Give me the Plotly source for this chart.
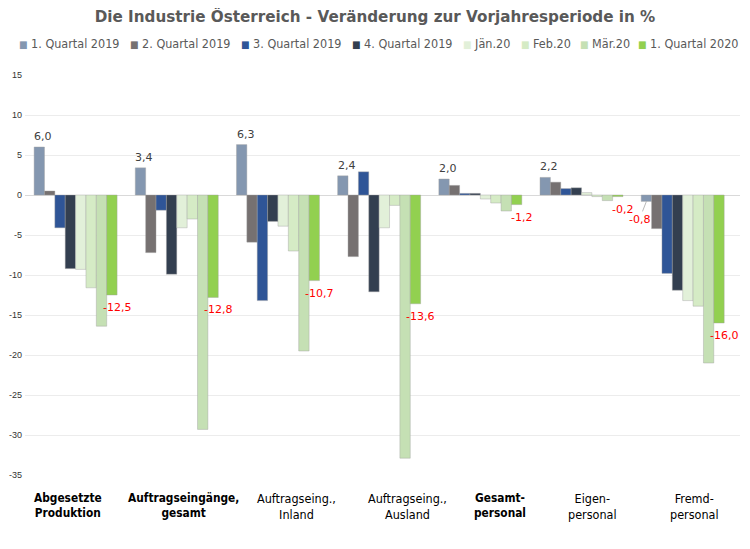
import plotly.graph_objects as go

# ---------------- data ----------------
categories = ["Abgesetzte Produktion", "Auftragseingänge, gesamt", "Auftragseing., Inland",
              "Auftragseing., Ausland", "Gesamtpersonal", "Eigenpersonal", "Fremdpersonal"]
category_labels = ["Abgesetzte<br>Produktion", "Auftragseingänge,<br>gesamt", "Auftragseing.,<br>Inland",
                   "Auftragseing.,<br>Ausland", "Gesamt-<br>personal", "Eigen-<br>personal", "Fremd-<br>personal"]
category_bold = [True, True, False, False, True, False, False]

series_names = ["1. Quartal 2019", "2. Quartal 2019", "3. Quartal 2019", "4. Quartal 2019",
                "Jän.20", "Feb.20", "Mär.20", "1. Quartal 2020"]

q1_2019 = [6.0, 3.4, 6.3, 2.4, 2.0, 2.2, -0.8]
q2_2019 = [0.5, -7.2, -5.9, -7.7, 1.2, 1.6, -4.2]
q3_2019 = [-4.1, -1.9, -13.2, 2.9, 0.2, 0.8, -9.8]
q4_2019 = [-9.2, -9.9, -3.3, -12.1, 0.2, 0.9, -11.9]
jan_20 = [-9.3, -4.1, -3.9, -4.1, -0.5, 0.3, -13.2]
feb_20 = [-11.6, -3.0, -7.0, -1.3, -1.0, -0.2, -13.9]
mar_20 = [-16.4, -29.3, -19.5, -32.9, -2.0, -0.7, -21.0]
q1_2020 = [-12.5, -12.8, -10.7, -13.6, -1.2, -0.2, -16.0]

y_ticks = [15, 10, 5, 0, -5, -10, -15, -20, -25, -30, -35]

# ---------------- style ----------------
colors = ["#8497b0", "#767171", "#2f5597", "#333f50", "#e2f0d9", "#d5ebc5", "#c5e0b4", "#92d050"]
# page offset: the html body has an 8px margin
OFF = 8
legend_x_px = [17, 128, 239, 350, 461, 519, 578, 636]
label_xshift = [-8, 7, 19, 28, 20, 11, 12]
BARGAP = 0.18
PLOT_L, PLOT_R, PLOT_T, PLOT_B = 25 - OFF, 740 - OFF, 75 - OFF, 475 - OFF
W, H = 750 - OFF, 549 - OFF
FONT_TXT = "DejaVu Sans Condensed, Liberation Sans Narrow, DejaVu Sans, sans-serif"


def fmt(v):
    return f"{v:.1f}".replace(".", ",")


all_series = [q1_2019, q2_2019, q3_2019, q4_2019, jan_20, feb_20, mar_20, q1_2020]

fig = go.Figure()
for i, (name, vals) in enumerate(zip(series_names, all_series)):
    fig.add_trace(go.Bar(
        x=categories, y=vals, name=name,
        marker=dict(color=colors[i], line=dict(color="rgba(160,160,160,0.7)", width=0.6)),
        cliponaxis=False, showlegend=False))

annotations = []
n = len(series_names)


def bar_off(k):
    return (k - (n - 1) / 2) * (1 - BARGAP) / n


# labels of first series
for j, v in enumerate(q1_2019):
    if v > 0:
        annotations.append(dict(x=j + bar_off(0), y=v, xref="x", yref="y", text=fmt(v),
                                showarrow=False, xanchor="center", yanchor="bottom", xshift=4, yshift=2,
                                font=dict(color="#404040", size=11, family="DejaVu Sans")))
    else:
        annotations.append(dict(x=j + bar_off(0), y=v, xref="x", yref="y", text=fmt(v),
                                showarrow=True, arrowhead=0, arrowwidth=0.8, arrowcolor="#a6a6a6",
                                ax=-7, ay=18, font=dict(color="#ff0000", size=11, family="DejaVu Sans")))

# labels of last series (below the bar end, slightly to the right)
for j, v in enumerate(q1_2020):
    annotations.append(dict(x=j + bar_off(n - 1), y=v, xref="x", yref="y", text=fmt(v),
                            showarrow=False, xanchor="center", yanchor="top", xshift=5, yshift=-4,
                            font=dict(color="#ff0000", size=11, family="DejaVu Sans")))

# category labels
for j, (lab, b) in enumerate(zip(category_labels, category_bold)):
    txt = "<br>".join(f"<b>{p}</b>" if b else p for p in lab.split("<br>"))
    annotations.append(dict(x=categories[j], y=-0.035, xref="x", yref="paper", yanchor="top",
                            text=txt, showarrow=False, xshift=label_xshift[j],
                            font=dict(size=11.8 if b else 12.5, color="#000000", family=FONT_TXT)))

# legend drawn as text
for name, c, px in zip(series_names, colors, legend_x_px):
    annotations.append(dict(x=(px - OFF - PLOT_L) / (PLOT_R - PLOT_L), y=1.078, xref="paper", yref="paper",
                            xanchor="left", yanchor="middle", showarrow=False,
                            text=f"<span style='color:{c};font-size:10px'>■</span> {name}",
                            font=dict(size=12.5, color="#595959", family=FONT_TXT)))

fig.update_layout(
    width=W, height=H,
    margin=dict(l=PLOT_L, r=W - PLOT_R, t=PLOT_T, b=H - PLOT_B, autoexpand=False),
    paper_bgcolor="white", plot_bgcolor="white",
    barmode="group", bargap=BARGAP, bargroupgap=0,
    showlegend=False,
    title=dict(text="<b>Die Industrie Österreich - Veränderung zur Vorjahresperiode in %</b>",
               x=(375 - OFF) / W, xanchor="center", y=1 - (17 - OFF) / H, yanchor="middle",
               font=dict(size=15.2, color="#595959", family="DejaVu Sans")),
    xaxis=dict(showticklabels=False, showgrid=False, zeroline=False, showline=False, ticks="",
               automargin=False),
    yaxis=dict(range=[-35, 15], tickvals=y_ticks, ticktext=[str(t) for t in y_ticks],
               showgrid=True, gridcolor="#ececec", gridwidth=1, automargin=False,
               zeroline=True, zerolinecolor="#d9d9d9", zerolinewidth=1, ticklabelstandoff=2,
               tickfont=dict(size=9, color="#333333", family="Liberation Sans, Arial, sans-serif"),
               ticks=""),
    annotations=annotations,
)

fig.write_html("out.html")
